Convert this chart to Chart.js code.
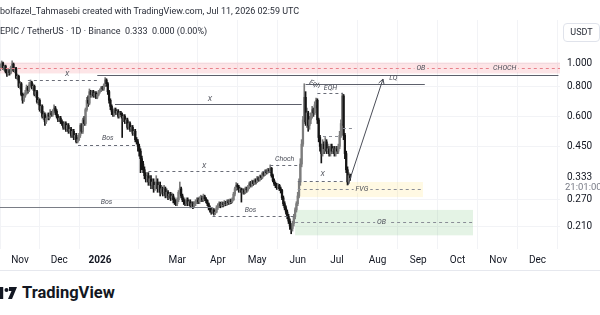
<!DOCTYPE html>
<html><head><meta charset="utf-8">
<script src="https://cdn.jsdelivr.net/npm/chart.js@4.4.1/dist/chart.umd.min.js"></script>
<style>
html,body{margin:0;padding:0;background:#fff;width:600px;height:315px;overflow:hidden;font-family:Roboto,"Noto Sans",sans-serif;}
#wrap{position:absolute;left:0;top:0;width:600px;height:272px;}
.t{position:absolute;white-space:nowrap;color:#2a2e39;}
</style></head><body>
<div id="wrap"><canvas id="c" width="600" height="272" style="width:600px;height:272px"></canvas></div>
<div class="t" style="left:0;top:6px;font-size:9px;">bolfazel_Tahmasebi created with TradingView.com, Jul 11, 2026 02:59 UTC</div>
<div class="t" style="left:0;top:26px;font-size:9px;">EPIC / TetherUS · 1D · Binance&nbsp; 0.333&nbsp; 0.000 (0.00%)</div>
<div class="t" style="left:563px;top:23px;width:35px;height:17px;border:1px solid #e0e3eb;border-radius:4px;font-size:9px;line-height:17px;text-align:center;background:#fff;">USDT</div>
<div style="position:absolute;left:0;top:270px;width:600px;height:1px;background:#e6e8ee;"></div>
<svg style="position:absolute;left:0;top:285px" width="20" height="16" viewBox="0 0 20 16">
  <rect x="0" y="2" width="3.2" height="12" fill="#131722"/>
  <circle cx="6.5" cy="5" r="2" fill="#131722"/>
  <polygon points="9,2 17,2 12,14 8,14 11.5,6 9,6" fill="#131722"/>
</svg>
<div class="t" style="left:22px;top:283px;font-size:16.5px;font-weight:700;color:#131722;">TradingView</div>
<script>
// ---- data (daily candles, day 0 = 2025-10-17) ----
const firstOpen = 0.95;
const closes = [
0.97,1.00,0.95,0.97,0.92,0.90,0.93,0.91,0.96,0.99,
0.93,0.95,0.87,0.88,0.80,0.82,0.74,0.70,0.73,0.75,
0.79,0.77,0.81,0.83,0.79,0.80,0.74,0.76,0.69,0.70,
0.64,0.66,0.60,0.61,0.57,0.59,0.61,0.60,0.62,0.61,
0.63,0.65,0.63,0.60,0.58,0.59,0.57,0.56,0.54,0.56,
0.53,0.55,0.52,0.53,0.50,0.52,0.49,0.50,0.47,0.48,
0.50,0.55,0.52,0.58,0.56,0.64,0.70,0.68,0.76,0.74,
0.76,0.73,0.75,0.72,0.74,0.76,0.77,0.79,0.78,0.81,
0.85,0.82,0.76,0.70,0.66,0.63,0.61,0.64,0.62,0.63,
0.60,0.62,0.61,0.59,0.60,0.57,0.58,0.54,0.56,0.53,
0.54,0.51,0.52,0.48,0.47,0.45,0.43,0.40,0.38,0.36,
0.34,0.33,0.34,0.32,0.33,0.31,0.32,0.30,0.31,0.32,
0.30,0.31,0.29,0.30,0.29,0.30,0.28,0.29,0.28,0.285,
0.275,0.28,0.27,0.265,0.26,0.27,0.29,0.30,0.28,0.27,
0.265,0.26,0.27,0.26,0.265,0.255,0.26,0.255,0.26,0.265,
0.27,0.265,0.27,0.275,0.27,0.278,0.272,0.268,0.26,0.25,
0.245,0.24,0.245,0.238,0.24,0.25,0.255,0.26,0.255,0.26,
0.258,0.262,0.26,0.265,0.262,0.268,0.265,0.27,0.285,0.30,
0.31,0.305,0.295,0.30,0.29,0.295,0.29,0.30,0.297,0.305,
0.315,0.31,0.322,0.315,0.326,0.32,0.333,0.326,0.338,0.334,
0.348,0.342,0.356,0.35,0.36,0.354,0.365,0.34,0.325,0.315,
0.31,0.305,0.31,0.30,0.295,0.275,0.26,0.25,0.24,0.23,
0.22,0.21,0.205,0.215,0.23,0.245,0.26,0.28,0.32,0.38,
0.46,0.58,0.72,0.57,0.62,0.55,0.58,0.60,0.64,0.62,
0.67,0.70,0.58,0.49,0.45,0.42,0.46,0.44,0.47,0.43,
0.44,0.42,0.45,0.43,0.44,0.42,0.44,0.43,0.45,0.50,
0.56,0.73,0.50,0.42,0.36,0.32,0.34,0.333];
const highs = [
0.99,1.02,1.01,0.98,0.98,0.94,0.95,0.94,0.97,1.02,
1.00,0.96,0.96,0.90,0.89,0.84,0.83,0.75,0.75,0.77,
0.81,0.80,0.83,0.85,0.84,0.82,0.81,0.77,0.77,0.72,
0.71,0.67,0.67,0.63,0.62,0.60,0.62,0.62,0.64,0.63,
0.64,0.67,0.66,0.64,0.61,0.60,0.60,0.58,0.57,0.57,
0.57,0.56,0.56,0.54,0.54,0.53,0.53,0.51,0.51,0.49,
0.51,0.56,0.56,0.59,0.60,0.65,0.72,0.73,0.78,0.77,
0.77,0.77,0.76,0.76,0.75,0.77,0.78,0.80,0.80,0.82,
0.87,0.86,0.83,0.77,0.71,0.67,0.64,0.65,0.65,0.64,
0.64,0.63,0.63,0.62,0.61,0.61,0.59,0.59,0.57,0.57,
0.55,0.55,0.53,0.53,0.49,0.48,0.46,0.44,0.41,0.39,
0.37,0.35,0.35,0.35,0.34,0.34,0.33,0.33,0.32,0.34,
0.33,0.32,0.32,0.31,0.305,0.31,0.305,0.30,0.295,0.29,
0.29,0.288,0.285,0.275,0.27,0.275,0.295,0.32,0.305,0.285,
0.275,0.27,0.275,0.275,0.27,0.27,0.265,0.265,0.265,0.27,
0.275,0.275,0.278,0.282,0.28,0.285,0.282,0.276,0.27,0.262,
0.255,0.25,0.25,0.248,0.246,0.255,0.26,0.265,0.264,0.265,
0.264,0.268,0.266,0.27,0.27,0.272,0.272,0.275,0.29,0.305,
0.318,0.315,0.31,0.305,0.302,0.30,0.30,0.305,0.305,0.31,
0.32,0.322,0.326,0.325,0.33,0.33,0.338,0.336,0.342,0.342,
0.352,0.352,0.36,0.36,0.365,0.364,0.377,0.368,0.345,0.33,
0.32,0.316,0.315,0.313,0.305,0.298,0.28,0.265,0.255,0.245,
0.235,0.225,0.215,0.22,0.235,0.25,0.265,0.29,0.33,0.40,
0.48,0.60,0.82,0.76,0.65,0.63,0.60,0.62,0.66,0.65,
0.69,0.715,0.71,0.59,0.50,0.46,0.48,0.47,0.49,0.48,
0.46,0.45,0.46,0.46,0.45,0.45,0.45,0.45,0.46,0.52,
0.58,0.75,0.74,0.51,0.43,0.37,0.35,0.345];
const lows = [
0.93,0.96,0.94,0.93,0.91,0.88,0.89,0.89,0.90,0.95,
0.92,0.91,0.86,0.85,0.79,0.78,0.73,0.68,0.69,0.72,
0.74,0.75,0.76,0.80,0.78,0.77,0.73,0.72,0.68,0.67,
0.63,0.62,0.59,0.58,0.55,0.56,0.58,0.58,0.59,0.60,
0.60,0.62,0.61,0.59,0.57,0.57,0.56,0.55,0.53,0.53,
0.52,0.52,0.51,0.51,0.49,0.49,0.48,0.48,0.465,0.465,
0.475,0.49,0.51,0.51,0.55,0.55,0.63,0.66,0.67,0.72,
0.73,0.72,0.72,0.71,0.71,0.73,0.75,0.76,0.77,0.77,
0.80,0.80,0.74,0.68,0.64,0.61,0.60,0.60,0.61,0.61,
0.59,0.59,0.60,0.49,0.57,0.56,0.56,0.53,0.53,0.52,
0.52,0.50,0.50,0.47,0.46,0.43,0.41,0.35,0.36,0.35,
0.33,0.32,0.32,0.31,0.31,0.30,0.30,0.29,0.295,0.30,
0.29,0.29,0.28,0.285,0.28,0.285,0.275,0.275,0.27,0.272,
0.268,0.27,0.262,0.258,0.255,0.255,0.265,0.285,0.275,0.265,
0.258,0.255,0.255,0.255,0.255,0.25,0.25,0.248,0.25,0.255,
0.26,0.26,0.26,0.265,0.265,0.265,0.268,0.262,0.255,0.245,
0.24,0.235,0.236,0.233,0.234,0.238,0.246,0.25,0.25,0.252,
0.252,0.254,0.255,0.256,0.258,0.258,0.26,0.262,0.268,0.28,
0.295,0.298,0.29,0.29,0.264,0.285,0.285,0.286,0.29,0.293,
0.30,0.305,0.305,0.31,0.312,0.314,0.318,0.322,0.323,0.328,
0.33,0.338,0.34,0.345,0.346,0.35,0.35,0.335,0.32,0.31,
0.303,0.298,0.30,0.295,0.288,0.27,0.255,0.245,0.235,0.225,
0.215,0.203,0.195,0.20,0.21,0.225,0.24,0.255,0.275,0.31,
0.37,0.45,0.56,0.55,0.54,0.52,0.53,0.56,0.59,0.60,
0.61,0.65,0.56,0.47,0.43,0.384,0.41,0.42,0.43,0.42,
0.42,0.41,0.41,0.42,0.42,0.41,0.41,0.42,0.42,0.44,
0.49,0.55,0.48,0.40,0.35,0.311,0.315,0.325];
const monthTickDays   = [15,45,76,135,166,196,227,257,288,319,349,380,410];
const monthTickLabels = ['Nov','Dec','2026','Mar','Apr','May','Jun','Jul','Aug','Sep','Oct','Nov','Dec'];
const priceTicks = [1.0,0.8,0.6,0.45,0.27,0.21];
const lastPrice = 0.333;
const countdown = '21:01:00';

// ---- drawings (day, price) ----
const zones = [
  {d1:-5,d2:440,p1:1.005,p2:0.905,fill:'rgba(242,54,69,0.13)'},
  {d1:227,d2:322.6,p1:0.320,p2:0.277,fill:'rgba(255,220,80,0.16)'},
  {d1:225,d2:360.8,p1:0.245,p2:0.192,fill:'rgba(76,175,80,0.15)'}
];
const lines = [
  {d1:-5,d2:440,p:0.953,dash:[3,3],color:'#e8808a'},
  {d1:74,d2:426,p:0.891,dash:[],color:'#5d606b'},
  {d1:21,d2:74,p:0.853,dash:[3,3],color:'#6a6d78'},
  {d1:87.5,d2:230,p:0.675,dash:[],color:'#5d606b'},
  {d1:59.3,d2:104.3,p:0.458,dash:[3,3],color:'#6a6d78'},
  {d1:-5,d2:162,p:0.252,dash:[],color:'#7a7d86'},
  {d1:113,d2:206,p:0.355,dash:[3,3],color:'#6a6d78'},
  {d1:206,d2:227,p:0.377,dash:[3,3],color:'#6a6d78'},
  {d1:162,d2:226,p:0.232,dash:[3,3],color:'#6a6d78'},
  {d1:227,d2:322.6,p:0.299,dash:[3,3],color:'#8a8d96'},
  {d1:225,d2:360.8,p:0.218,dash:[3,3],color:'#8a8d96'},
  {d1:227,d2:261.5,p:0.324,dash:[3,3],color:'#6a6d78'},
  {d1:233,d2:324,p:0.818,dash:[],color:'#5d606b'},
  {d1:242,d2:261.5,p:0.75,dash:[3,3],color:'#6a6d78'},
  {d1:261.5,d2:270.7,p:0.536,dash:[3,3],color:'#8a8d96'},
  {d1:246.3,d2:260.8,p:0.497,dash:[3,3],color:'#8a8d96'}
];
const labels = [
  {d:51,p:0.853,dy:-5,t:'X'},{d:160,p:0.675,dy:-5,t:'X'},{d:82,p:0.458,dy:-6,t:'Bos'},
  {d:81,p:0.252,dy:-5,t:'Bos'},{d:155.5,p:0.355,dy:-5,t:'X'},{d:217,p:0.377,dy:-6,t:'Choch'},
  {d:191,p:0.232,dy:-5,t:'Bos'},{d:276,p:0.299,dy:0,t:'FVG',bg:'#fff8e0'},{d:291,p:0.218,dy:0,t:'OB',bg:'#e4f2e5'},
  {d:321,p:0.953,dy:0,t:'OB',bg:'#fde4e6'},{d:385,p:0.953,dy:0,t:'CHOCH',bg:'#fde4e6'},{d:246,p:0.324,dy:-6,t:'X'},
  {d:300,p:0.818,dy:-6,t:'LQ'},{d:252,p:0.75,dy:-5,t:'EQH'},{d:240,p:0.80,dy:-2,t:'Eqh',rot:0.45}
];
const arrow = {d1:265.4,p1:0.311,d2:292.1,p2:0.858};

const opens = closes.map((c,i)=> i ? closes[i-1] : firstOpen);
const isUp = closes.map((c,i)=> c >= opens[i]);
const upCol = '#7c7c7c', dnCol = '#151515';

const drawings = {
  id:'drawings',
  beforeDatasetsDraw(chart){
    const {ctx, chartArea:a, scales:{x,y}} = chart;
    ctx.save(); ctx.beginPath(); ctx.rect(a.left,a.top,a.right-a.left,a.bottom-a.top); ctx.clip();
    zones.forEach(z=>{
      const x1=x.getPixelForValue(z.d1), x2=x.getPixelForValue(z.d2);
      const y1=y.getPixelForValue(z.p1), y2=y.getPixelForValue(z.p2);
      ctx.fillStyle=z.fill; ctx.fillRect(x1,y1,x2-x1,y2-y1);
    });
    ctx.restore();
  },
  afterDatasetsDraw(chart){
    const {ctx, chartArea:a, scales:{x,y}} = chart;
    ctx.save(); ctx.beginPath(); ctx.rect(a.left,a.top,a.right-a.left,a.bottom-a.top); ctx.clip();
    ctx.lineWidth=1;
    lines.forEach(l=>{
      const yy=Math.round(y.getPixelForValue(l.p))+0.5;
      ctx.strokeStyle=l.color; ctx.setLineDash(l.dash);
      ctx.beginPath(); ctx.moveTo(x.getPixelForValue(l.d1),yy); ctx.lineTo(x.getPixelForValue(l.d2),yy); ctx.stroke();
    });
    ctx.setLineDash([]);
    const ax1=x.getPixelForValue(arrow.d1), ay1=y.getPixelForValue(arrow.p1);
    const ax2=x.getPixelForValue(arrow.d2), ay2=y.getPixelForValue(arrow.p2);
    ctx.strokeStyle='#4a4d57';
    ctx.beginPath(); ctx.moveTo(ax1,ay1); ctx.lineTo(ax2,ay2); ctx.stroke();
    const ang=Math.atan2(ay2-ay1,ax2-ax1);
    ctx.beginPath();
    ctx.moveTo(ax2-6*Math.cos(ang-0.5),ay2-6*Math.sin(ang-0.5)); ctx.lineTo(ax2,ay2);
    ctx.lineTo(ax2-6*Math.cos(ang+0.5),ay2-6*Math.sin(ang+0.5)); ctx.stroke();
    ctx.font='italic 7px Roboto, sans-serif'; ctx.textAlign='center'; ctx.textBaseline='middle';
    labels.forEach(lb=>{
      const px=x.getPixelForValue(lb.d), py=y.getPixelForValue(lb.p)+lb.dy;
      ctx.save(); ctx.translate(px,py); if(lb.rot) ctx.rotate(lb.rot);
      if(lb.bg){ const w=ctx.measureText(lb.t).width+4; ctx.fillStyle=lb.bg; ctx.fillRect(-w/2,-4,w,8); }
      ctx.fillStyle='#4a4d57'; ctx.fillText(lb.t,0,0); ctx.restore();
    });
    ctx.restore();
  },
  afterDraw(chart){
    const {ctx, chartArea:a, scales:{y}} = chart;
    const py=y.getPixelForValue(lastPrice);
    ctx.save(); ctx.fillStyle='#fff'; ctx.fillRect(a.right+1,py-6,39,19);
    ctx.font='10px Roboto, sans-serif'; ctx.textAlign='left'; ctx.textBaseline='middle';
    ctx.fillStyle='#131722'; ctx.fillText(lastPrice.toFixed(3),a.right+7,py);
    ctx.font='9.5px Roboto, sans-serif';
    ctx.fillStyle='#787b86'; ctx.fillText(countdown,a.right+5,py+10);
    ctx.restore();
  }
};

new Chart(document.getElementById('c'),{
  type:'bar',
  data:{datasets:[
    {data:closes.map((c,i)=>({x:i,y:[lows[i],highs[i]]})),backgroundColor:isUp.map(u=>u?upCol:dnCol),barThickness:1,grouped:false,borderWidth:0,borderSkipped:false,order:2},
    {data:closes.map((c,i)=>({x:i,y:[opens[i],c]})),backgroundColor:isUp.map(u=>u?upCol:dnCol),barThickness:1.6,grouped:false,borderWidth:0,borderSkipped:false,order:1}
  ]},
  options:{
    responsive:false,animation:false,devicePixelRatio:1,
    layout:{padding:{top:20,left:0,right:0,bottom:0}},
    plugins:{legend:{display:false},tooltip:{enabled:false}},
    scales:{
      x:{type:'linear',offset:false,min:-0.27,max:427.2,
        afterBuildTicks:s=>{s.ticks=monthTickDays.map(v=>({value:v}));},
        afterFit:s=>{s.height=23;},
        ticks:{autoSkip:false,maxRotation:0,padding:5,color:'#131722',
          callback:v=>monthTickLabels[monthTickDays.indexOf(v)],
          font:ctx=>({size:10,family:'Roboto',weight:(ctx.tick&&ctx.tick.value===76)?'bold':'normal'})},
        grid:{color:'#f2f3f6',drawTicks:false},border:{display:false}},
      y:{type:'logarithmic',position:'right',min:0.1685,max:1.5094,
        afterBuildTicks:s=>{s.ticks=priceTicks.map(v=>({value:v}));},
        afterFit:s=>{s.width=40;},
        ticks:{autoSkip:false,padding:7,color:'#131722',font:{size:10,family:'Roboto'},
          callback:v=>Number(v).toFixed(3)},
        grid:{color:'#f2f3f6',drawTicks:false},border:{display:false}}
    }
  },
  plugins:[drawings]
});
</script>
</body></html>
